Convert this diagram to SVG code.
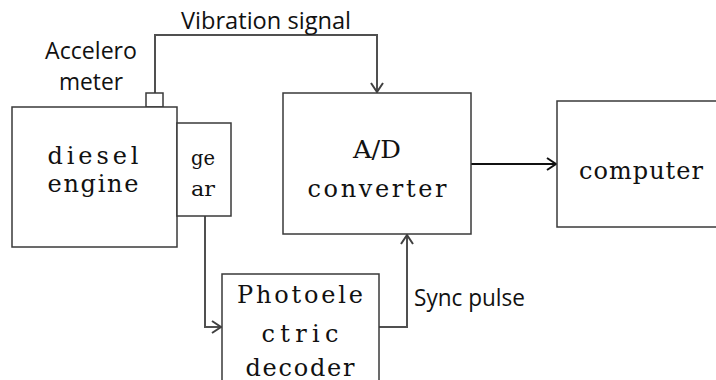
<svg xmlns="http://www.w3.org/2000/svg" width="716" height="380" viewBox="0 0 716 380">
<style>
.box{fill:#fff;stroke:#3a3a3a;stroke-width:1.5}
.mono{font-family:"DejaVu Serif","Liberation Serif",serif;fill:#111;text-anchor:middle}
.lbl{font-family:"Open Sans","Noto Sans",sans-serif;fill:#111}
.wire{fill:none;stroke:#505050;stroke-width:2}
</style>
<defs>
<marker id="arr" markerWidth="14" markerHeight="14" refX="12" refY="7" orient="auto" markerUnits="userSpaceOnUse">
<polyline points="3,1 12,7 3,13" fill="none" stroke="#404040" stroke-width="2"/>
</marker>
<marker id="arrk" markerWidth="14" markerHeight="14" refX="12" refY="7" orient="auto" markerUnits="userSpaceOnUse">
<polyline points="3,1 12,7 3,13" fill="none" stroke="#111" stroke-width="2"/>
</marker>
</defs>
<rect width="716" height="380" fill="#fff"/>
<g id="connectors">
<polyline class="wire" points="155,93 155,35 377,35 377,92" marker-end="url(#arr)"/>
<line x1="471" y1="164" x2="556" y2="164" stroke="#111" stroke-width="2" marker-end="url(#arrk)"/>
<polyline class="wire" points="205,216 205,327 221,327" marker-end="url(#arr)"/>
<polyline class="wire" points="379,327 407,327 407,235" marker-end="url(#arr)"/>
</g>
<g id="accelerometer">
<rect class="box" x="146" y="93" width="17" height="14"/>
<text class="lbl" x="91" y="59" font-size="23" text-anchor="middle" textLength="92" lengthAdjust="spacingAndGlyphs">Accelero</text>
<text class="lbl" x="91" y="90" font-size="23" text-anchor="middle" textLength="64" lengthAdjust="spacingAndGlyphs">meter</text>
</g>
<g id="vibration-label">
<text class="lbl" x="181" y="29" font-size="23" textLength="170" lengthAdjust="spacingAndGlyphs">Vibration signal</text>
</g>
<g id="diesel-engine">
<rect class="box" x="12" y="107" width="165" height="140"/>
<text class="mono" x="93" y="164" font-size="24" textLength="91" lengthAdjust="spacing">diesel</text>
<text class="mono" x="93" y="192" font-size="24" textLength="91" lengthAdjust="spacing">engine</text>
</g>
<g id="gear">
<rect class="box" x="177" y="123" width="54" height="93"/>
<text class="mono" x="203" y="165" font-size="20" textLength="24" lengthAdjust="spacingAndGlyphs">ge</text>
<text class="mono" x="203" y="196" font-size="20" textLength="24" lengthAdjust="spacingAndGlyphs">ar</text>
</g>
<g id="ad-converter">
<rect class="box" x="283" y="93" width="188" height="141"/>
<text class="mono" x="377" y="158" font-size="24" textLength="48" lengthAdjust="spacingAndGlyphs">A/D</text>
<text class="mono" x="377" y="197" font-size="24" textLength="139" lengthAdjust="spacing">converter</text>
</g>
<g id="computer">
<rect class="box" x="557" y="101" width="180" height="126"/>
<text class="mono" x="641" y="179" font-size="24" textLength="124" lengthAdjust="spacing">computer</text>
</g>
<g id="photoelectric-decoder">
<rect class="box" x="222" y="274" width="157" height="130"/>
<text class="mono" x="300" y="303" font-size="24" textLength="126" lengthAdjust="spacing">Photoele</text>
<text class="mono" x="300" y="342" font-size="24" textLength="77" lengthAdjust="spacing">ctric</text>
<text class="mono" x="300" y="376" font-size="24" textLength="109" lengthAdjust="spacing">decoder</text>
</g>
<g id="sync-label">
<text class="lbl" x="414" y="306" font-size="23" textLength="111" lengthAdjust="spacingAndGlyphs">Sync pulse</text>
</g>
</svg>
